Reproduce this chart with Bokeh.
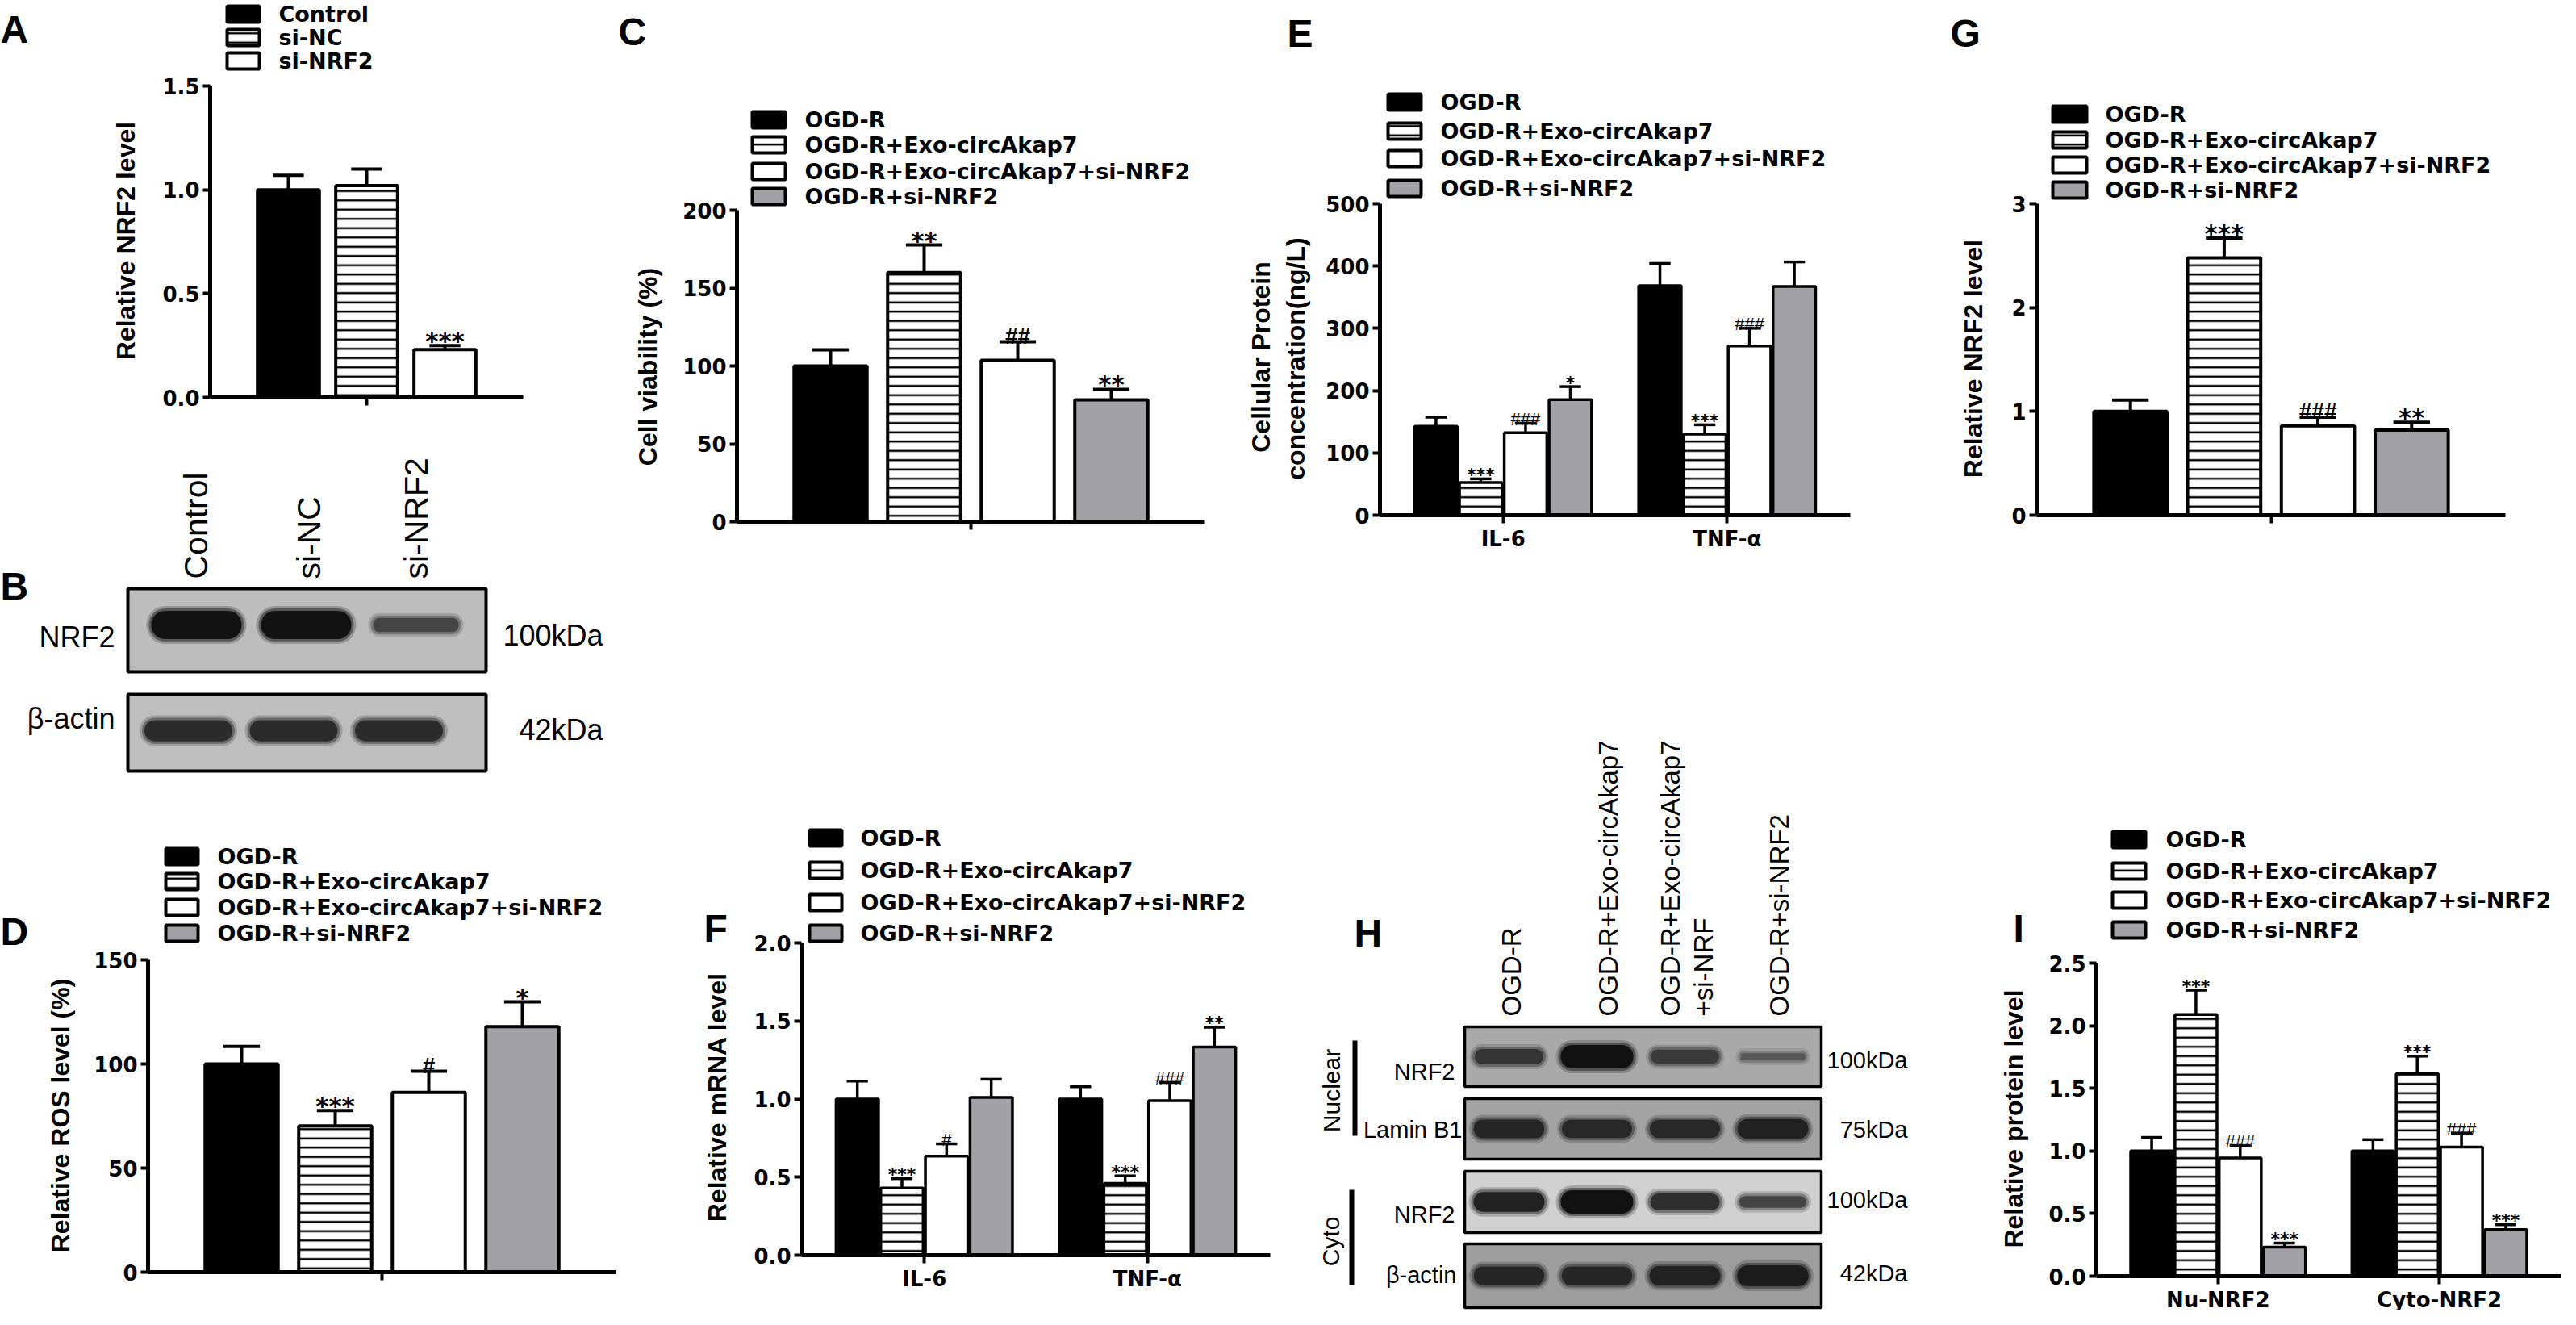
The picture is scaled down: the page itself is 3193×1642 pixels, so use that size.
import math
from bokeh.plotting import figure
from bokeh.models import Range1d, FixedTicker, PrintfTickFormatter, ColumnDataSource
from bokeh.layouts import row, column
from bokeh.embed import file_html
from bokeh.resources import INLINE
from bokeh.core.properties import value

# ======================= DATA =======================
A_groups = ["Control", "si-NC", "si-NRF2"]
A_values = [1.00, 1.02, 0.23]
A_errors = [0.07, 0.08, 0.02]
A_marks = ["", "", "***"]

OGD_groups = ["OGD-R", "OGD-R+Exo-circAkap7", "OGD-R+Exo-circAkap7+si-NRF2", "OGD-R+si-NRF2"]

C_values = [100.0, 160.0, 103.6, 78.2]
C_errors = [10.4, 17.7, 11.9, 6.8]
C_marks = ["", "**", "##", "**"]

D_values = [100.0, 70.3, 86.3, 117.9]
D_errors = [8.4, 7.3, 10.2, 11.9]
D_marks = ["", "***", "#", "*"]

G_values = [1.00, 2.48, 0.86, 0.82]
G_errors = [0.11, 0.19, 0.085, 0.075]
G_marks = ["", "***", "###", "**"]

E_categories = ["IL-6", "TNF-α"]
E_il6_values = [142.9, 52.6, 132.4, 185.6]
E_il6_errors = [14.4, 5.8, 15.2, 20.9]
E_il6_marks = ["", "***", "###", "*"]
E_tnf_values = [368.4, 130.2, 271.8, 367.2]
E_tnf_errors = [35.8, 15.0, 28.3, 39.4]
E_tnf_marks = ["", "***", "###", ""]

F_categories = ["IL-6", "TNF-α"]
F_il6_values = [1.00, 0.43, 0.635, 1.01]
F_il6_errors = [0.115, 0.06, 0.078, 0.117]
F_il6_marks = ["", "***", "#", ""]
F_tnf_values = [1.00, 0.46, 0.99, 1.333]
F_tnf_errors = [0.079, 0.048, 0.116, 0.127]
F_tnf_marks = ["", "***", "###", "**"]

I_categories = ["Nu-NRF2", "Cyto-NRF2"]
I_nu_values = [1.00, 2.09, 0.944, 0.232]
I_nu_errors = [0.108, 0.194, 0.098, 0.032]
I_nu_marks = ["", "***", "###", "***"]
I_cyto_values = [1.00, 1.617, 1.031, 0.372]
I_cyto_errors = [0.09, 0.14, 0.111, 0.039]
I_cyto_marks = ["", "***", "###", "***"]

B_lanes = ["Control", "si-NC", "si-NRF2"]
B_rows = ["NRF2", "β-actin"]
B_kda = ["100kDa", "42kDa"]
B_nrf2_band = [1.0, 1.0, 0.5]
B_actin_band = [0.75, 0.75, 0.75]

H_lanes = ["OGD-R", "OGD-R+Exo-circAkap7", "OGD-R+Exo-circAkap7\n+si-NRF", "OGD-R+si-NRF2"]
H_rows = ["NRF2", "Lamin B1", "NRF2", "β-actin"]
H_kda = ["100kDa", "75kDa", "100kDa", "42kDa"]
H_fractions = ["Nuclear", "Cyto"]
H_nu_nrf2_band = [0.65, 1.0, 0.6, 0.3]
H_lamin_band = [0.8, 0.78, 0.78, 0.85]
H_cyto_nrf2_band = [0.85, 1.0, 0.72, 0.5]
H_actin_band = [0.8, 0.8, 0.85, 0.9]

# ======================= STYLE =======================
ARIAL = "Liberation Sans"
WIDE = "DejaVu Sans"
SERIES_STYLES = [
    dict(fill_color="black"),
    dict(fill_color="white", hatch_pattern="horizontal_line", hatch_color="black",
         hatch_scale=11.5, hatch_weight=2.5),
    dict(fill_color="white"),
    dict(fill_color="#a2a2a6"),
]


def base_fig(W, H, xr, yr):
    p = figure(width=W, height=H, x_range=Range1d(*xr), y_range=Range1d(*yr),
               output_backend="svg", toolbar_location=None, title=None,
               min_border=0, min_border_left=0, min_border_right=0,
               min_border_top=0, min_border_bottom=0)
    p.frame_align = False
    p.outline_line_color = None
    p.background_fill_color = "white"
    p.border_fill_color = "white"
    return p


def chart(box, frame, xr, yr, yticks, yfmt, xticks, xlabels=None):
    """box = page box of the figure; frame = page position of the axes (left, top, right, bottom)."""
    X0, Y0, W, H = box
    fl, ft, fr_, fb = frame
    kx = (fr_ - fl) / (xr[1] - xr[0])
    ky = (fb - ft) / (yr[1] - yr[0])
    full_x = (xr[0] - (fl - X0) / kx, xr[1] + (X0 + W - fr_) / kx)
    full_y = (yr[0] - (Y0 + H - fb) / ky, yr[1] + (ft - Y0) / ky)
    p = base_fig(W, H, full_x, full_y)
    p.xgrid.visible = False
    p.ygrid.visible = False
    p.yaxis.fixed_location = xr[0]
    p.yaxis.bounds = (yr[0], yr[1])
    p.xaxis.fixed_location = yr[0]
    p.xaxis.bounds = (xr[0], xr[1])
    p.yaxis.ticker = FixedTicker(ticks=yticks)
    p.yaxis.formatter = PrintfTickFormatter(format=yfmt)
    p.xaxis.ticker = FixedTicker(ticks=xticks)
    if xlabels:
        p.xaxis.major_label_overrides = {t: l for t, l in zip(xticks, xlabels)}
    for ax in (p.xaxis[0], p.yaxis[0]):
        ax.axis_line_width = 5
        ax.axis_line_color = "black"
        ax.major_tick_line_width = 4
        ax.major_tick_line_color = "black"
        ax.major_tick_out = 9
        ax.major_tick_in = 0
        ax.minor_tick_line_color = None
        ax.major_label_text_font = WIDE
        ax.major_label_text_font_style = "bold"
        ax.major_label_text_font_size = "26px"
        ax.major_label_text_color = "black"
        ax.major_label_standoff = 4
    p.xaxis[0].major_tick_out = 10
    p.xaxis[0].major_label_standoff = 4
    if not xlabels:
        p.xaxis[0].major_label_text_alpha = 0.0
    return dict(p=p, dx=lambda X: xr[0] + (X - fl) / kx, dy=lambda Y: yr[0] + (fb - Y) / ky)


def ptext(P, X, Y, txt, font=ARIAL, size="32px", style="bold", align="left",
          baseline="middle", angle=0.0):
    P["p"].text(x=[P["dx"](X)], y=[P["dy"](Y)], text=[txt], text_font=value(font),
                text_font_size=value(size), text_font_style=style, text_align=align,
                text_baseline=baseline, angle=angle, text_color="black")


def letter(P, X, cap_top, txt):
    ptext(P, X, cap_top + 34.4, txt, font=ARIAL, size="48px", baseline="alphabetic")


def draw_bars(P, xs, vals, errs, marks, width, style, lw, big):
    p = P["p"]
    src = ColumnDataSource(data=dict(x=xs, top=vals))
    p.vbar(x="x", top="top", width=width, bottom=0, source=src,
           line_color="black", line_width=lw, **style)
    tips = [v + e for v, e in zip(vals, errs)]
    p.segment(x0=xs, y0=vals, x1=xs, y1=tips, line_color="black", line_width=lw)
    p.segment(x0=[x - width / 4 for x in xs], y0=tips, x1=[x + width / 4 for x in xs],
              y1=tips, line_color="black", line_width=lw)
    stars = [(x, t, m) for x, t, m in zip(xs, tips, marks) if m and "*" in m]
    hashes = [(x, t, m) for x, t, m in zip(xs, tips, marks) if m and "#" in m]
    if stars:
        p.text(x=[s[0] for s in stars], y=[s[1] for s in stars], text=[s[2] for s in stars],
               text_font=value(WIDE), text_font_size=value("31px" if big else "22px"),
               text_font_style="bold", text_align="center", text_baseline="alphabetic",
               y_offset=-6 if big else -5, text_color="black")
    if hashes:
        p.text(x=[s[0] for s in hashes], y=[s[1] for s in hashes], text=[s[2] for s in hashes],
               text_font=value(ARIAL), text_font_size=value("28px" if big else "22px"),
               text_font_style="bold" if big else "normal", text_align="center",
               text_baseline="alphabetic", y_offset=-7 if big else -5, text_color="black")


def legend_rows(P, styles, labels, glyph_left, text_x, centers, gw=41, gh=20, lw=4):
    p = P["p"]
    for st, lab, cy in zip(styles, labels, centers):
        p.rect(x=[P["dx"](glyph_left + gw / 2)], y=[P["dy"](cy)], width=gw, height=gh,
               width_units="screen", height_units="screen", line_color="black",
               line_width=lw, **st)
        ptext(P, text_x, cy, lab, font=WIDE, size="27px", style="bold")


def simple_panel(P, values, errors, marks, styles, width, lw=4):
    for i, (v, e, m) in enumerate(zip(values, errors, marks)):
        draw_bars(P, [i + 1], [v], [e], [m], width, styles[i], lw, True)


def grouped_panel(P, series_vals, series_errs, series_marks, width=0.19, lw=3.5):
    offs = [-0.3, -0.1, 0.1, 0.3]
    for i in range(4):
        xs = [1 + offs[i], 2 + offs[i]]
        draw_bars(P, xs, series_vals[i], series_errs[i], series_marks[i],
                  width, SERIES_STYLES[i], lw, False)


def per_series(*cats):
    return [[c[i] for c in cats] for i in range(4)]


VERT = math.pi / 2

# ======================= PANEL A =======================
A = chart((8, 8, 764, 552), (268, 114, 656, 500), (0, 4), (0, 1.5),
          [0, 0.5, 1.0, 1.5], "%.1f", [2])
simple_panel(A, A_values, A_errors, A_marks, SERIES_STYLES[:3], 0.79)
legend_rows(A, SERIES_STYLES[:3], A_groups, 289, 353, [25, 54, 83], gw=40)
ptext(A, 163, 306, "Relative NRF2 level", align="center", angle=VERT)
letter(A, 8, 10, "A")

# ======================= PANEL C =======================
C = chart((772, 8, 768, 704), (921, 268, 1501, 654), (0, 5), (0, 200),
          [0, 50, 100, 150, 200], "%d", [2.5])
simple_panel(C, C_values, C_errors, C_marks, SERIES_STYLES, 0.78)
legend_rows(C, SERIES_STYLES, OGD_groups, 940, 1005, [156, 187, 220, 251])
ptext(C, 810, 462, "Cell viability (%)", align="center", angle=VERT)
letter(C, 774, 13, "C")

# ======================= PANEL E =======================
E = chart((1540, 8, 880, 704), (1718, 260, 2301, 646), (0.45, 2.55), (0, 500),
          [0, 100, 200, 300, 400, 500], "%d", [1, 2], E_categories)
grouped_panel(E, per_series(E_il6_values, E_tnf_values),
              per_series(E_il6_errors, E_tnf_errors), per_series(E_il6_marks, E_tnf_marks))
legend_rows(E, SERIES_STYLES, OGD_groups, 1728, 1793, [134, 170, 204, 241])
ptext(E, 1570, 450, "Cellular Protein", align="center", angle=VERT)
ptext(E, 1613, 452, "concentration(ng/L)", align="center", angle=VERT)
letter(E, 1603, 15, "E")

# ======================= PANEL G =======================
G = chart((2420, 8, 765, 704), (2532, 260, 3113, 646), (0, 5), (0, 3),
          [0, 1, 2, 3], "%d", [2.5])
simple_panel(G, G_values, G_errors, G_marks, SERIES_STYLES, 0.78)
legend_rows(G, SERIES_STYLES, OGD_groups, 2552, 2617, [149, 181, 212, 243], gw=42)
ptext(G, 2453, 452, "Relative NRF2 level", align="center", angle=VERT)
letter(G, 2425, 15, "G")

# ======================= PANEL D =======================
D = chart((8, 975, 764, 657), (191, 1197, 771, 1584), (0, 5), (0, 150),
          [0, 50, 100, 150], "%d", [2.5])
simple_panel(D, D_values, D_errors, D_marks, SERIES_STYLES, 0.78)
legend_rows(D, SERIES_STYLES, OGD_groups, 213, 277, [1069, 1100, 1132, 1164], gw=40)
ptext(D, 82, 1390, "Relative ROS level (%)", align="center", angle=VERT)
letter(D, 8, 1128, "D")

# ======================= PANEL F =======================
F = chart((772, 712, 868, 920), (1001, 1176, 1582, 1563), (0.45, 2.55), (0, 2.0),
          [0, 0.5, 1.0, 1.5, 2.0], "%.1f", [1, 2], F_categories)
grouped_panel(F, per_series(F_il6_values, F_tnf_values),
              per_series(F_il6_errors, F_tnf_errors), per_series(F_il6_marks, F_tnf_marks))
legend_rows(F, SERIES_STYLES, OGD_groups, 1011, 1074, [1046, 1086, 1126, 1164], gw=40)
ptext(F, 896, 1367, "Relative mRNA level", align="center", angle=VERT)
letter(F, 880, 1124, "F")

# ======================= PANEL I =======================
I = chart((2440, 712, 745, 920), (2606, 1201, 3182, 1589), (0.45, 2.55), (0, 2.5),
          [0, 0.5, 1.0, 1.5, 2.0, 2.5], "%.1f", [1, 2], I_categories)
grouped_panel(I, per_series(I_nu_values, I_cyto_values),
              per_series(I_nu_errors, I_cyto_errors), per_series(I_nu_marks, I_cyto_marks))
legend_rows(I, SERIES_STYLES, OGD_groups, 2626, 2692, [1048, 1087, 1123, 1160])
ptext(I, 2503, 1394, "Relative protein level", align="center", angle=VERT)
letter(I, 2503, 1124, "I")


# ======================= BLOTS =======================
def blot_fig(X0, Y0, W, H):
    p = base_fig(W, H, (X0, X0 + W), (Y0 + H, Y0))
    p.axis.visible = False
    p.grid.visible = False
    return p


def btext(p, X, Y, txt, font=ARIAL, size="36px", style="normal", align="left",
          baseline="middle", angle=0.0):
    p.text(x=[X], y=[Y], text=[txt], text_font=value(font), text_font_size=value(size),
           text_font_style=style, text_align=align, text_baseline=baseline, angle=angle,
           text_color="black")


def blot_box(p, x0, x1, y0, y1, bg, lw=4):
    p.quad(left=[x0], right=[x1], top=[y0], bottom=[y1], fill_color=bg,
           line_color="black", line_width=lw)


def band(p, xc, yc, w, h, intensity):
    g = int(18 + (1 - intensity) * 100)
    col = "#%02x%02x%02x" % (g, g, g)
    for grow, alpha in ((6, 0.22), (3, 0.45), (0, 1.0)):
        hh = h + 2 * grow
        ww = w + 2 * grow
        p.quad(left=[xc - ww / 2], right=[xc + ww / 2], top=[yc - hh / 2], bottom=[yc + hh / 2],
               fill_color=col, fill_alpha=alpha, line_color=None,
               border_radius=int(hh / 2))


# ---- Panel B ----
Bp = blot_fig(8, 560, 764, 415)
blot_box(Bp, 166, 610, 737, 840, "#bdbdbd")
blot_box(Bp, 166, 610, 868, 963, "#bebebe")
for i, inten in enumerate(B_nrf2_band):
    band(Bp, 251 + 136 * i, 782, 100 + 12 * inten, 35 * inten, inten)
for i, inten in enumerate(B_actin_band):
    band(Bp, 241 + 130.5 * i, 913, 100 + 12 * inten, 35 * inten, inten)
for i, lab in enumerate(B_lanes):
    btext(Bp, [250, 390, 523][i], 725, lab, size="41px", angle=VERT)
btext(Bp, 150, 797, B_rows[0], align="right")
btext(Bp, 150, 898, B_rows[1], align="right")
btext(Bp, 755, 795, B_kda[0], align="right")
btext(Bp, 755, 912, B_kda[1], align="right")
btext(Bp, 8, 700 + 34.4, "B", size="48px", style="bold", baseline="alphabetic")

# ---- Panel H ----
Hp = blot_fig(1640, 712, 800, 920)
H_boxes = [(1280, 1354, "#a9a9a9"), (1369, 1444, "#a3a3a3"), (1459, 1535, "#d0d0d0"),
           (1549, 1628, "#9d9d9d")]
H_bands = [H_nu_nrf2_band, H_lamin_band, H_cyto_nrf2_band, H_actin_band]
for (y0, y1, bg), row_band in zip(H_boxes, H_bands):
    blot_box(Hp, 1823, 2265, y0, y1, bg, lw=3.5)
    for i, inten in enumerate(row_band):
        band(Hp, 1878 + 109 * i, (y0 + y1) / 2, 76 + 14 * inten, 29 * inten, inten)
H_label_x = [1881, 2001, 2098, 2213]
for i, lab in enumerate(H_lanes):
    lines = lab.split("\n")
    for k, ln in enumerate(lines):
        xk = H_label_x[i] + (k - (len(lines) - 1) / 2) * 41
        btext(Hp, xk, 1267, ln, size="33px", angle=VERT)
H_row_label_y = [1335, 1407, 1512, 1587]
H_row_label_x = [1811, 1820, 1811, 1813]
for lab, yy, xx in zip(H_rows, H_row_label_y, H_row_label_x):
    btext(Hp, xx, yy, lab, size="29px", align="right")
H_kda_y = [1321, 1407, 1494, 1585]
for lab, yy in zip(H_kda, H_kda_y):
    btext(Hp, 2372, yy, lab, size="29px", align="right")
Hp.segment(x0=[1687, 1683], y0=[1297, 1482], x1=[1687, 1683], y1=[1415, 1600],
           line_color="black", line_width=6)
btext(Hp, 1658, 1359, H_fractions[0], size="30px", align="center", angle=VERT)
btext(Hp, 1657, 1546, H_fractions[1], size="30px", align="center", angle=VERT)
btext(Hp, 1686, 1130 + 34.4, "H", size="48px", style="bold", baseline="alphabetic")

# ======================= LAYOUT =======================
left = column(A["p"], Bp, D["p"])
right = column(row(C["p"], E["p"], G["p"]), row(F["p"], Hp, I["p"]))
layout = row(left, right)

open("out.html", "w").write(file_html(layout, INLINE, "Figure"))
